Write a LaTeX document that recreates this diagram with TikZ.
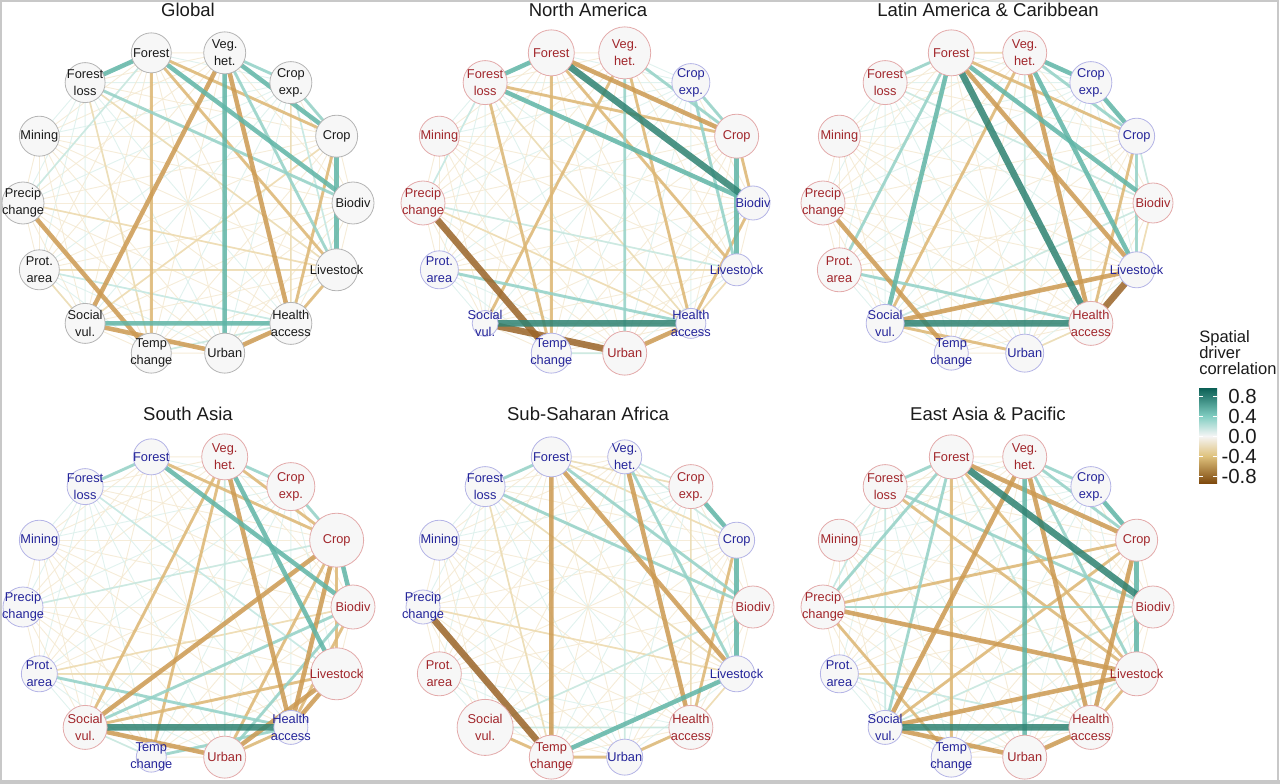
\documentclass[tikz,border=0pt]{standalone}
\usepackage{fontspec}
\setmainfont{Liberation Sans}
\usetikzlibrary{calc}

\definecolor{nodefill}{HTML}{F7F7F7}
\definecolor{ringgray}{HTML}{B4B4B4}
\definecolor{ringred}{HTML}{E3AAAA}
\definecolor{ringblue}{HTML}{B4B4E6}
\definecolor{txtgray}{HTML}{1A1A1A}
\definecolor{txtred}{HTML}{A1262B}
\definecolor{txtblue}{HTML}{25259A}
\definecolor{framegray}{HTML}{C8C8C8}
\definecolor{cpos4}{HTML}{2E8272}
\definecolor{cpos3}{HTML}{5FB5A7}
\definecolor{cpos2}{HTML}{94D2C8}
\definecolor{cpos1}{HTML}{C6E8E2}
\definecolor{cpos0}{HTML}{DCF0EC}
\definecolor{cneg4}{HTML}{9A6428}
\definecolor{cneg3}{HTML}{CC9A52}
\definecolor{cneg2}{HTML}{DDB775}
\definecolor{cneg1}{HTML}{EEDBB0}
\definecolor{cneg0}{HTML}{F4E9D2}
\definecolor{bartop}{HTML}{0B5F55}
\definecolor{barmidpos}{HTML}{80CDC1}
\definecolor{barzero}{HTML}{F5F5F5}
\definecolor{barmidneg}{HTML}{DFC27D}
\definecolor{barbot}{HTML}{7F4A0E}

\pgfdeclarelayer{background}
\pgfsetlayers{background,main}

% drivers round each circle (position index, label)
\def\angbd{0}\def\labbd{Biodiv}
\def\angcr{1}\def\labcr{Crop}
\def\angce{2}\def\labce{Crop\\exp.}
\def\angvh{3}\def\labvh{Veg.\\het.}
\def\angfo{4}\def\labfo{Forest}
\def\angfl{5}\def\labfl{Forest\\loss}
\def\angmi{6}\def\labmi{Mining}
\def\angpc{7}\def\labpc{Precip\\change}
\def\angpa{8}\def\labpa{Prot.\\area}
\def\angsv{9}\def\labsv{Social\\vul.}
\def\angtc{10}\def\labtc{Temp\\change}
\def\angur{11}\def\labur{Urban}
\def\angha{12}\def\labha{Health\\access}
\def\angls{13}\def\labls{Livestock}

% one panel: prefix, centre x, centre y, title, key/colour/radius
\newcommand\drivers[5]{%
  \node[paneltitle] (#1-title) at ({#2},{#3-193}) {#4};
  \foreach \k/\s/\r in {#5}{%
    \pgfmathsetmacro\ang{\csname ang\k\endcsname*360/14}%
    \node[driver, draw=ring\s, minimum size=\r*1.5pt,
      label={[drvtext, text=txt\s]center:\csname lab\k\endcsname}]
      (#1-\k) at ({#2+165*cos(\ang)},{#3-154*sin(\ang)}) {};
  }%
}
% faint web of all pairs
\newcommand\web[1]{%
  \foreach \src [count=\ia] in {bd,cr,ce,vh,fo,fl,mi,pc,pa,sv,tc,ur,ha,ls}{%
    \foreach \dst [count=\ib] in {bd,cr,ce,vh,fo,fl,mi,pc,pa,sv,tc,ur,ha,ls}{%
      \ifnum\ib>\ia\relax
        \pgfmathtruncatemacro\m{mod(\ia*5+\ib*3,3)}%
        \ifnum\m=0\relax \draw[faintpos] (#1-\src.center) -- (#1-\dst.center);
        \else \draw[faintneg] (#1-\src.center) -- (#1-\dst.center);\fi
      \fi}}}
% stronger correlations
\newcommand\links[2]{%
  \foreach \src/\dst/\s in {#2}{\draw[\s] (#1-\src.center) -- (#1-\dst.center);}}

\begin{document}
\begin{tikzpicture}[x=0.75pt, y=-0.75pt,
    driver/.style={circle, inner sep=0pt, fill=nodefill, line width=0.6pt},
    drvtext/.style={inner sep=0pt, align=center, font=\fontsize{9.6}{12.5}\selectfont},
    paneltitle/.style={font=\fontsize{13.9}{16}\selectfont, text=txtgray},
    edge/.style={line cap=butt, opacity=0.85},
    faintpos/.style={edge, draw=cpos0, line width=0.7pt},
    faintneg/.style={edge, draw=cneg0, line width=0.7pt},
    pos1/.style={edge, draw=cpos1, line width=1.3pt},
    pos2/.style={edge, draw=cpos2, line width=2.2pt},
    pos3/.style={edge, draw=cpos3, line width=3.4pt},
    pos4/.style={edge, draw=cpos4, line width=5pt},
    neg1/.style={edge, draw=cneg1, line width=1.3pt},
    neg2/.style={edge, draw=cneg2, line width=2.2pt},
    neg3/.style={edge, draw=cneg3, line width=3.4pt},
    neg4/.style={edge, draw=cneg4, line width=5pt}]
  \useasboundingbox (0,0) rectangle (1280,784);
  % frame
  \draw[framegray, line width=1.2pt] (1,1) rectangle (1278,781);
  \fill[framegray] (0,780) rectangle (1280,784);

  % Global
  \drivers{G}{188}{203}{Global}{bd/gray/21, cr/gray/21, ce/gray/21, vh/gray/21, fo/gray/20, fl/gray/20, mi/gray/20, pc/gray/21, pa/gray/20, sv/gray/20, tc/gray/20, ur/gray/20, ha/gray/21, ls/gray/21}
  % North America
  \drivers{NA}{588}{203}{North America}{bd/blue/17, cr/red/22, ce/blue/19, vh/red/26, fo/red/23, fl/red/22, mi/red/20, pc/red/22, pa/blue/19, sv/blue/13, tc/blue/20, ur/red/22, ha/blue/15, ls/blue/16}
  % Latin America
  \drivers{LA}{988}{203}{Latin America \& Caribbean}{bd/red/20, cr/blue/18, ce/blue/21, vh/red/22, fo/red/23, fl/red/22, mi/red/21, pc/red/22, pa/red/22, sv/blue/19, tc/blue/17, ur/blue/19, ha/red/22, ls/blue/18}
  % South Asia
  \drivers{SA}{188}{607}{South Asia}{bd/red/22, cr/red/27, ce/red/24, vh/red/23, fo/blue/18, fl/blue/18, mi/blue/20, pc/blue/20, pa/blue/18, sv/red/22, tc/blue/15, ur/red/21, ha/blue/17, ls/red/26}
  % Sub-Saharan Africa
  \drivers{SS}{588}{607}{Sub-Saharan Africa}{bd/red/21, cr/blue/18, ce/red/22, vh/blue/17, fo/blue/20, fl/blue/20, mi/blue/20, pc/blue/17, pa/red/22, sv/red/28, tc/red/22, ur/blue/18, ha/red/22, ls/blue/18}
  % East Asia
  \drivers{EA}{988}{607}{East Asia \& Pacific}{bd/red/21, cr/red/21, ce/blue/20, vh/red/22, fo/red/22, fl/red/22, mi/red/21, pc/red/22, pa/blue/19, sv/blue/17, tc/blue/20, ur/red/22, ha/red/22, ls/red/22}

  \begin{pgfonlayer}{background}
    \web{G}\web{NA}\web{LA}\web{SA}\web{SS}\web{EA}
    \links{G}{fl/ls/neg1, fl/tc/neg1, ce/ha/neg1, pa/ls/neg1, sv/cr/neg1, pc/ls/neg1, pa/sv/neg1, pc/fo/pos1, pa/ha/pos1, tc/ha/pos1, ce/ls/pos1,
      fo/cr/neg2, fo/ls/neg2, fo/tc/neg2, ls/ha/neg2, cr/ha/neg2, fl/bd/pos2, vh/ls/pos2, vh/ce/pos2, ce/cr/pos2,
      vh/sv/neg3, vh/ha/neg3, ha/ur/neg3, sv/ur/neg3, pc/tc/neg3,
      fo/fl/pos3, fo/bd/pos3, vh/cr/pos3, cr/ls/pos3, vh/ur/pos3, sv/ha/pos3}
    \links{NA}{pa/ls/neg1, pc/ha/neg1, ls/ha/neg1, fl/ha/neg1, pc/ls/pos1, tc/ur/pos1, pc/fl/pos1,
      cr/bd/neg2, bd/ha/neg2, vh/ha/neg2, fo/tc/neg2, fo/ls/neg2, fl/tc/neg2, sv/vh/neg2, fl/cr/neg2,
      vh/cr/pos2, ce/cr/pos2, ce/ls/pos2, vh/ur/pos2, pa/ha/pos2,
      fo/cr/neg3, ha/ur/neg3, fo/fl/pos3, fl/bd/pos3, cr/ls/pos3,
      pc/tc/neg4, sv/ur/neg4, fo/bd/pos4, sv/ha/pos4}
    \links{LA}{fo/vh/neg1, bd/ls/neg1, pa/ls/neg1, ha/ur/neg1, vh/ur/pos1, fl/bd/pos1, sv/bd/pos1, cr/bd/pos1,
      fo/cr/neg2, vh/sv/neg2, cr/ha/neg2, sv/ur/neg2, fo/fl/pos2, fo/pa/pos2, vh/cr/pos2, cr/ls/pos2, pa/ha/pos2,
      fo/ls/neg3, vh/ha/neg3, sv/ls/neg3, pc/tc/neg3,
      fo/sv/pos3, fo/bd/pos3, vh/ce/pos3, ce/cr/pos3, vh/ls/pos3,
      ls/ha/neg4, fo/ha/pos4, sv/ha/pos4}
    \links{SA}{ls/pa/neg1, bd/pa/neg1, vh/ur/pos1, pc/cr/pos1, fl/ls/pos1, sv/tc/pos1,
      fo/cr/neg2, vh/sv/neg2, vh/tc/neg2, vh/cr/neg2, cr/ls/neg2, bd/ha/neg2, ls/sv/neg2, ha/ur/neg2, cr/ur/neg2,
      fo/fl/pos2, vh/ce/pos2, ce/cr/pos2, pa/ha/pos2, bd/sv/pos2, bd/ur/pos2, tc/ha/pos2,
      vh/ha/neg3, cr/ha/neg3, cr/sv/neg3, ls/ur/neg3, sv/ur/neg3, ls/ha/neg3,
      fo/bd/pos3, vh/ls/pos3, cr/bd/pos3,
      sv/ha/pos4}
    \links{SS}{fo/ce/neg1, fl/ls/neg1, fl/tc/neg1, ce/ha/neg1, pc/ls/neg1, ls/ha/neg1, fo/cr/neg1,
      vh/ur/pos1, vh/cr/pos1, vh/ce/pos1, sv/ha/pos1, sv/bd/pos1,
      cr/ha/neg2, sv/tc/neg2, tc/ur/neg2, ha/ur/neg2, fo/fl/pos2, fo/bd/pos2, fl/bd/pos2, vh/ls/pos2,
      fo/tc/neg3, fo/ls/neg3, vh/ha/neg3, ce/cr/pos3, cr/ls/pos3, ls/tc/pos3,
      pc/tc/neg4}
    \links{EA}{pa/ls/neg1, fo/ha/pos1, fl/pc/pos1, fl/sv/pos1, bd/sv/pos1, pa/ha/pos1, ls/tc/pos1,
      fo/tc/neg2, fo/ls/neg2, fl/ls/neg2, cr/pc/neg2, cr/sv/neg2, pc/tc/neg2, ls/ha/neg2,
      fo/fl/pos2, fo/pc/pos2, fo/sv/pos2, fl/bd/pos2, vh/ce/pos2, vh/cr/pos2, vh/ls/pos2, bd/pc/pos2,
      fo/cr/neg3, vh/ha/neg3, vh/sv/neg3, cr/ha/neg3, pc/ls/neg3, sv/ls/neg3, sv/ur/neg3, ha/ur/neg3,
      vh/ur/pos3, ce/cr/pos3, cr/ls/pos3,
      fo/bd/pos4, sv/ha/pos4}
  \end{pgfonlayer}

  % legend
  \node[anchor=north west, align=left, inner sep=0pt, text=txtgray, font=\fontsize{12.4}{11.3}\selectfont] (legend-title) at (1199,330) {Spatial\\driver\\correlation};
  \shade[top color=bartop, bottom color=barmidpos] (1199,388) rectangle (1217,416);
  \shade[top color=barmidpos, bottom color=barzero] (1199,416) rectangle (1217,436);
  \shade[top color=barzero, bottom color=barmidneg] (1199,436) rectangle (1217,456);
  \shade[top color=barmidneg, bottom color=barbot] (1199,456) rectangle (1217,483);
  \foreach \v/\yy [count=\n] in {0.8/396, 0.4/416, 0.0/436, -0.4/456, -0.8/476}{
    \draw[white, line width=0.6pt] (1199,\yy) -- (1203,\yy) (1213,\yy) -- (1217,\yy);
    \node[anchor=east, inner sep=0pt, text=txtgray, font=\fontsize{15.3}{16}\selectfont] (legend-tick-\n) at (1257,\yy) {\v};
  }
\end{tikzpicture}
\end{document}
